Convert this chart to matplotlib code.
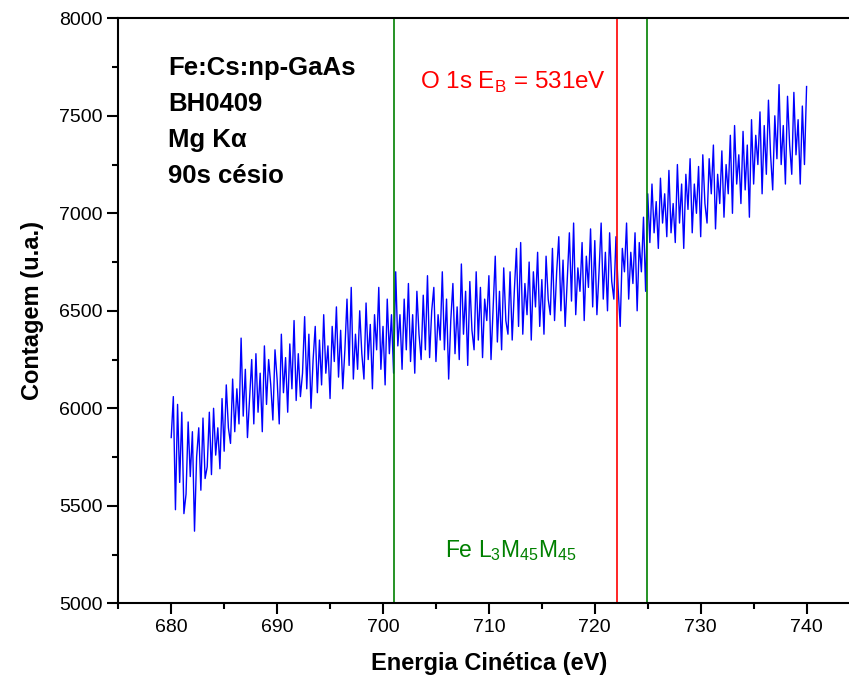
import numpy as np
import matplotlib.pyplot as plt
from matplotlib.ticker import MultipleLocator

plt.rcParams['font.family'] = ['Liberation Sans', 'DejaVu Sans']
plt.rcParams['mathtext.fontset'] = 'custom'
plt.rcParams['mathtext.rm'] = 'Liberation Sans'

# Kinetic energy grid (eV) and counts, 0.2 eV apart
e_start = 680.0
e_step = 0.2
counts = [
    5850, 6060, 5480, 6020, 5620,   # 680
    5980, 5460, 5560, 5930, 5650,   # 681
    5880, 5370, 5750, 5900, 5580,   # 682
    5950, 5640, 5700, 5980, 5660,   # 683
    6000, 5760, 5900, 5690, 6050,   # 684
    5780, 6120, 5900, 5820, 6150,   # 685
    5880, 6100, 5920, 6360, 5960,   # 686
    6200, 5850, 6050, 6250, 5920,   # 687
    6280, 5980, 6180, 5880, 6320,   # 688
    6020, 6250, 6120, 5940, 6300,   # 689
    6150, 5920, 6380, 6080, 6260,   # 690
    5980, 6330, 6100, 6450, 6040,   # 691
    6280, 6060, 6180, 6470, 6100,   # 692
    6380, 6000, 6250, 6420, 6080,   # 693
    6350, 6120, 6480, 6180, 6320,   # 694
    6050, 6420, 6240, 6520, 6160,   # 695
    6400, 6100, 6300, 6560, 6220,   # 696
    6620, 6150, 6380, 6200, 6500,   # 697
    6280, 6150, 6540, 6250, 6430,   # 698
    6100, 6480, 6300, 6620, 6200,   # 699
    6420, 6120, 6560, 6280, 6480,   # 700
    6180, 6700, 6320, 6480, 6200,   # 701
    6560, 6300, 6640, 6240, 6480,   # 702
    6180, 6600, 6380, 6250, 6580,   # 703
    6300, 6680, 6260, 6500, 6620,   # 704
    6240, 6480, 6350, 6700, 6300,   # 705
    6560, 6150, 6450, 6640, 6280,   # 706
    6520, 6250, 6740, 6380, 6600,   # 707
    6220, 6650, 6400, 6300, 6700,   # 708
    6350, 6620, 6260, 6560, 6450,   # 709
    6680, 6250, 6520, 6780, 6340,   # 710
    6600, 6300, 6720, 6450, 6380,   # 711
    6700, 6350, 6600, 6820, 6420,   # 712
    6850, 6380, 6640, 6480, 6750,   # 713
    6350, 6700, 6520, 6800, 6420,   # 714
    6660, 6380, 6780, 6560, 6480,   # 715
    6820, 6450, 6700, 6880, 6500,   # 716
    6760, 6420, 6660, 6900, 6550,   # 717
    6950, 6480, 6720, 6600, 6850,   # 718
    6450, 6780, 6620, 6920, 6520,   # 719
    6860, 6480, 6700, 6950, 6560,   # 720
    6800, 6500, 6900, 6650, 6560,   # 721
    6880, 6620, 6420, 6820, 6700,   # 722
    6950, 6560, 6800, 6640, 6900,   # 723
    6500, 6850, 6700, 6980, 6600,   # 724
    7100, 6850, 7150, 6900, 7060,   # 725
    6820, 7180, 6950, 7100, 6880,   # 726
    7220, 6900, 7050, 6850, 7250,   # 727
    6950, 7150, 6820, 7200, 7020,   # 728
    7280, 6900, 7150, 7000, 7240,   # 729
    6880, 7300, 7050, 6950, 7280,   # 730
    7100, 7350, 6920, 7200, 7050,   # 731
    7320, 6980, 7250, 7100, 7400,   # 732
    7000, 7450, 7150, 7300, 7050,   # 733
    7420, 7120, 7350, 6980, 7480,   # 734
    7150, 7400, 7250, 7520, 7100,   # 735
    7450, 7200, 7580, 7300, 7120,   # 736
    7500, 7280, 7660, 7250, 7450,   # 737
    7150, 7600, 7350, 7200, 7620,   # 738
    7300, 7480, 7150, 7550, 7250,   # 739
    7650,                           # 740
]
energy = e_start + e_step * np.arange(len(counts))

# marker lines (kinetic energy, eV)
fe_lines = [701.0, 724.9]
o1s_line = 722.1

fig = plt.figure(figsize=(8.49, 6.75), dpi=100)
ax = fig.add_axes([0.1393, 0.1062, 0.8731, 0.8667])

ax.plot(energy, counts, color='#0000ff', linewidth=1.0)
for x in fe_lines:
    ax.axvline(x, color='#008000', linewidth=1.2)
ax.axvline(o1s_line, color='#ff0000', linewidth=1.2)

ax.set_xlim(675, 745)
ax.set_ylim(5000, 8000)
ax.xaxis.set_major_locator(MultipleLocator(10))
ax.xaxis.set_minor_locator(MultipleLocator(5))
ax.yaxis.set_major_locator(MultipleLocator(500))
ax.yaxis.set_minor_locator(MultipleLocator(250))
ax.tick_params(which='major', direction='out', length=8, width=1.5, labelsize=14)
ax.tick_params(which='minor', direction='out', length=4.5, width=1.5)
for side in ['left', 'bottom', 'top', 'right']:
    ax.spines[side].set_linewidth(1.5)

ax.set_xlabel('Energia Cinética (eV)', fontsize=17, fontweight='bold', labelpad=11)
ax.set_ylabel('Contagem (u.a.)', fontsize=17, fontweight='bold', labelpad=11)

# sample info, top left
info = ['Fe:Cs:np-GaAs', 'BH0409', 'Mg Kα', '90s césio']
info_y = [7709, 7524, 7340, 7155]
for s, y in zip(info, info_y):
    ax.text(679.7, y, s, fontsize=18.5, fontweight='bold', va='baseline')

ax.text(703.5, 7640, r'O 1s E$_\mathregular{B}$ = 531eV', color='#ff0000',
        fontsize=17.5, va='baseline')
ax.text(705.85, 5239, r'Fe L$_\mathregular{3}$M$_\mathregular{45}$M$_\mathregular{45}$',
        color='#008000', fontsize=16.5, va='baseline')

fig.savefig('out.png', dpi=100)
